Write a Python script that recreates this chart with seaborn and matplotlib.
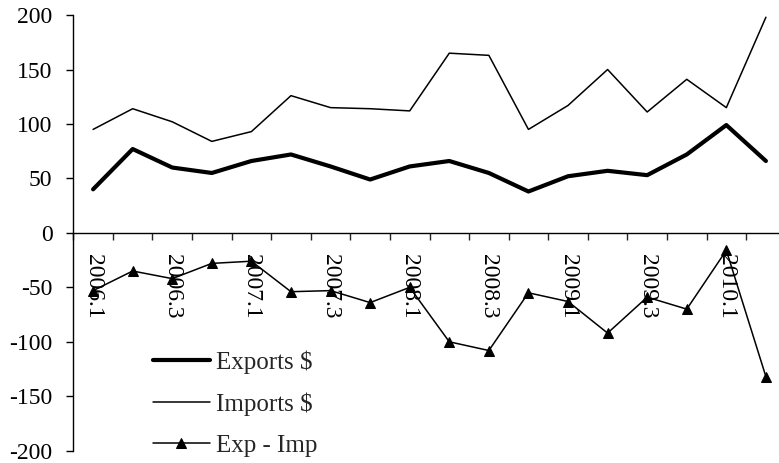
import numpy as np
import pandas as pd
import matplotlib
matplotlib.use("Agg")
import matplotlib.pyplot as plt
import seaborn as sns

# Quarterly trade series, 2006.1 - 2010.2
quarters = ["2006.1", "2006.2", "2006.3", "2006.4",
            "2007.1", "2007.2", "2007.3", "2007.4",
            "2008.1", "2008.2", "2008.3", "2008.4",
            "2009.1", "2009.2", "2009.3", "2009.4",
            "2010.1", "2010.2"]
exports = [40, 77, 60, 55, 66, 72, 61, 49, 61, 66, 55, 38,
           52, 57, 53, 72, 99, 66]
imports = [95, 114, 102, 84, 93, 126, 115, 114, 112, 165, 163, 95,
           117, 150, 111, 141, 115, 198]
balance = [-53, -35, -42, -28, -26, -54, -53, -64, -50, -100, -108, -55,
           -63, -92, -59, -70, -16, -132]
y_ticks = [-200, -150, -100, -50, 0, 50, 100, 150, 200]

sns.set_style("white")
plt.rcParams["font.family"] = ["Liberation Serif", "DejaVu Serif"]

df = pd.DataFrame({"pos": np.arange(len(quarters)),
                   "Exports $": exports,
                   "Imports $": imports,
                   "Exp - Imp": balance})

fig = plt.figure(figsize=(7.79, 4.63), dpi=100)
ax = fig.add_axes([0.0941, 0.0265, 0.9145, 0.9410])

sns.lineplot(data=df, x="pos", y="Exports $", ax=ax, color="black",
             linewidth=3.0, label="Exports $")
sns.lineplot(data=df, x="pos", y="Imports $", ax=ax, color="black",
             linewidth=1.1, label="Imports $")
sns.lineplot(data=df, x="pos", y="Exp - Imp", ax=ax, color="black",
             linewidth=1.1, marker="^", markersize=7,
             markeredgecolor="black", markerfacecolor="black",
             label="Exp - Imp")

ax.set_xlim(-0.5, len(quarters) - 0.5)
ax.set_ylim(-200, 200)
ax.set_xlabel("")
ax.set_ylabel("")

# category axis crossing at zero
for side in ("top", "right"):
    ax.spines[side].set_visible(False)
ax.spines["bottom"].set_position(("data", 0))
for side in ("left", "bottom"):
    ax.spines[side].set_color("black")
    ax.spines[side].set_linewidth(1.0)

ax.set_yticks(y_ticks)
ax.set_yticklabels([str(v) for v in y_ticks])
ax.tick_params(axis="y", direction="out", length=5, width=1.0,
               pad=10, labelsize=17, colors="black", left=True)

label_pos = np.arange(0, len(quarters), 2)
ax.set_xticks(label_pos)
ax.set_xticklabels([quarters[i] for i in label_pos], rotation=270,
                   ha="center", va="top")
ax.tick_params(axis="x", which="major", length=0, pad=15,
               labelsize=17, colors="black")
ax.set_xticks(np.arange(-0.5, len(quarters), 1.0), minor=True)
ax.tick_params(axis="x", which="minor", direction="out", length=5,
               width=1.0, bottom=True)

leg = ax.legend(loc="upper left", bbox_to_anchor=(0.1115, 0.231),
                frameon=False, fontsize=18, handlelength=2.3,
                handletextpad=0.25, labelspacing=0.75, borderpad=0,
                borderaxespad=0)

fig.savefig("out.png", dpi=100)
